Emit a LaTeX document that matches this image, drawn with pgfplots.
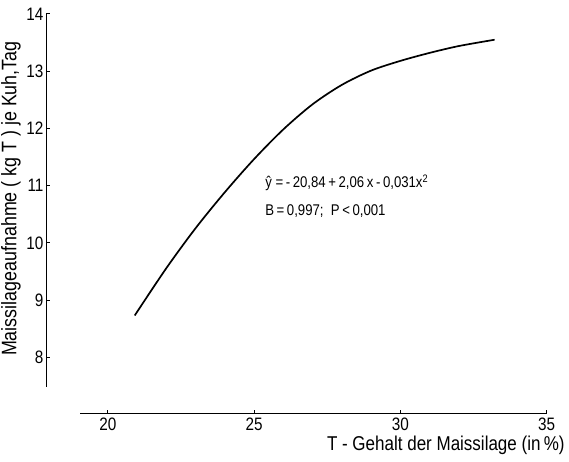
\documentclass[border=0pt]{standalone}
\usepackage{fontspec}
\setmainfont{Liberation Sans}[FakeStretch=0.85]
\usepackage{pgfplots}
\pgfplotsset{compat=1.18}
\begin{document}
\begin{tikzpicture}
\path[use as bounding box] (-46pt,-75pt) rectangle (523pt,387pt);
\begin{axis}[
  at={(0,0)}, anchor=south west,
  scale only axis, width=500.7pt, height=373pt,
  xmin=17.9, xmax=35.0, ymin=7.48, ymax=14,
  axis y line=left, axis x line=none,
  axis line style={-, line width=1pt},
  ytick={8,9,10,11,12,13,14}, xtick=\empty,
  tick align=inside, major tick length=4pt,
  tick style={line width=1pt, black},
  /pgf/number format/assume math mode=true,
  yticklabel style={font=\fontsize{18}{20}\selectfont, xshift=1pt},
  every axis y label/.style={at={(axis description cs:-0.07,0.505)}, rotate=90, anchor=center},
  ylabel={\fontsize{21}{23}\selectfont Maissilageaufnahme ( kg T ) je Kuh,Tag},
  clip=false,
]
\addplot[black, line width=1.7pt, smooth] coordinates {
  (20.93,8.73) (22,9.55) (23,10.25) (24,10.88) (25,11.46) (26,11.98)
  (27,12.42) (28,12.76) (29,13.01) (30,13.18) (31,13.32) (32,13.44) (33.22,13.55)
};
\node[anchor=base west, font=\fontsize{15.5}{17}\selectfont] at (axis cs:25.27,10.97)
  {ŷ =\,-\,20,84\,+\,2,06\,x\,-\,0,031x\textsuperscript{2}};
\node[anchor=base west, font=\fontsize{15.5}{17}\selectfont] at (axis cs:25.27,10.48)
  {B\,=\,0,997;\ \ P\,<\,0,001};
\end{axis}
\begin{axis}[
  at={(34pt,-27pt)}, anchor=south west,
  scale only axis, width=466.7pt, height=20pt,
  xmin=19.05, xmax=35, ymin=0, ymax=1,
  axis x line=bottom, axis y line=none,
  axis line style={-, line width=1pt},
  xtick={20,25,30,35}, ytick=\empty,
  tick align=inside, major tick length=4pt,
  tick style={line width=1pt, black},
  /pgf/number format/assume math mode=true,
  xticklabel style={font=\fontsize{18}{20}\selectfont},
  every axis x label/.style={at={(axis description cs:1.046,0)}, anchor=base east, yshift=-36pt},
  xlabel={\fontsize{20}{22}\selectfont T - Gehalt der Maissilage (in\,\%)},
]
\addplot[draw=none] coordinates {(20,0.5)};
\end{axis}
\end{tikzpicture}
\end{document}
